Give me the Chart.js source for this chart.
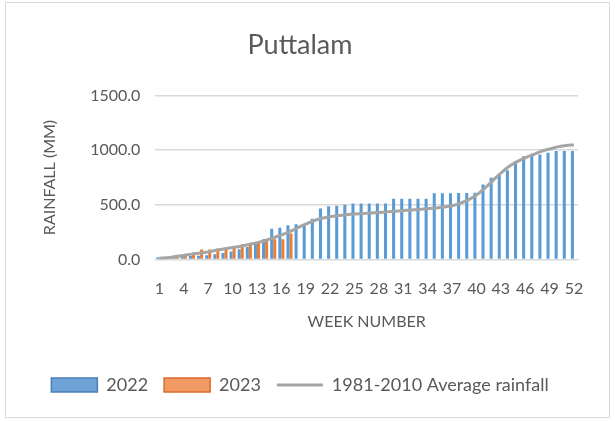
<!DOCTYPE html>
<html>
<head>
<meta charset="utf-8">
<script src="https://cdn.jsdelivr.net/npm/chart.js@4.4.0/dist/chart.umd.min.js"></script>
<style>
  html, body { margin: 0; padding: 0; background: #fff; }
  #wrap { position: relative; width: 615px; height: 421px; }
  #frame { position: absolute; left: 5px; top: 2px; width: 605px; height: 416px; border: 1px solid #d9d9d9; box-sizing: border-box; }
  canvas { position: absolute; left: 0; top: 0; }
</style>
</head>
<body>
<div id="wrap">
  <div id="frame"></div>
  <canvas id="chart" width="615" height="421"></canvas>
</div>
<script>
// Puttalam cumulative weekly rainfall
const weeks = Array.from({ length: 52 }, (_, i) => String(i + 1));

const rain2022 = [22, 25, 28, 30, 32, 35, 40, 50, 60, 75,
  95, 115, 150, 185, 282, 292, 313, 322, 325, 374,
  467, 488, 492, 500, 512, 512, 512, 512, 512, 555,
  555, 555, 555, 555, 605, 605, 605, 608, 608, 610,
  686, 747, 772, 817, 900, 945, 950, 961, 976, 991,
  991, 991];

const rain2023 = [15, 25, 45, 45, 64, 92, 92, 101, 110, 110,
  141, 141, 157, 178, 185, 185, 239];

const avgRain = [12, 18, 28, 38, 50, 60, 70, 85, 98, 110,
  122, 138, 155, 175, 198, 225, 255, 290, 325, 355,
  378, 392, 402, 410, 416, 420, 425, 430, 436, 442,
  448, 452, 458, 465, 472, 480, 492, 515, 545, 590,
  650, 720, 790, 850, 895, 930, 960, 990, 1010, 1030,
  1042, 1050];

const yTicks = [0, 500, 1000, 1500];

const FONT = 'Lato, "Open Sans", sans-serif';
const GREY_TEXT = '#595959';

const ctx = document.getElementById('chart').getContext('2d');
new Chart(ctx, {
  data: {
    labels: weeks,
    datasets: [
      {
        type: 'line',
        label: '1981-2010 Average rainfall',
        data: avgRain,
        borderColor: '#a5a5a5',
        borderWidth: 3,
        pointRadius: 0,
        tension: 0.4,
        order: 0
      },
      {
        type: 'bar',
        label: '2022',
        data: rain2022,
        backgroundColor: '#5b9bd5',
        categoryPercentage: 0.75,
        barPercentage: 1,
        order: 1
      },
      {
        type: 'bar',
        label: '2023',
        data: rain2023,
        backgroundColor: '#ed7d31',
        categoryPercentage: 0.75,
        barPercentage: 1,
        order: 1
      }
    ]
  },
  options: {
    responsive: false,
    devicePixelRatio: 1,
    animation: false,
    layout: { padding: { left: 22, right: 37, top: 19, bottom: 17 } },
    plugins: {
      title: {
        display: true,
        text: 'Puttalam',
        color: GREY_TEXT,
        font: { family: FONT, size: 27, weight: 'normal' },
        padding: { top: 10, bottom: 34 }
      },
      legend: {
        position: 'bottom',
        labels: {
          color: GREY_TEXT,
          font: { family: FONT, size: 18 },
          usePointStyle: true,
          pointStyleWidth: 46,
          boxHeight: 14,
          padding: 16,
          // legend order: 2022, 2023, average line
          generateLabels: chart => {
            const ds = chart.data.datasets;
            return [
              { text: '2022', fillStyle: '#6fa3d8', strokeStyle: '#4a7ebb', lineWidth: 1.5, pointStyle: 'rect', datasetIndex: 1, fontColor: GREY_TEXT },
              { text: '2023', fillStyle: '#f29a64', strokeStyle: '#d9692a', lineWidth: 1.5, pointStyle: 'rect', datasetIndex: 2, fontColor: GREY_TEXT },
              { text: ds[0].label, fillStyle: '#a5a5a5', strokeStyle: '#a5a5a5', lineWidth: 3, pointStyle: 'line', datasetIndex: 0, fontColor: GREY_TEXT }
            ];
          }
        }
      },
      tooltip: { enabled: false }
    },
    scales: {
      x: {
        grid: { display: false, drawTicks: false },
        border: { display: true, color: '#d9d9d9', width: 1 },
        ticks: {
          color: GREY_TEXT,
          font: { family: FONT, size: 16 },
          autoSkip: false,
          maxRotation: 0,
          padding: 20,
          callback: (v, i) => (i % 3 === 0 ? weeks[i] : '')
        },
        title: {
          display: true,
          text: 'WEEK NUMBER',
          color: GREY_TEXT,
          font: { family: FONT, size: 16 },
          padding: { top: -7, bottom: 29 }
        }
      },
      y: {
        min: 0,
        max: 1500,
        afterBuildTicks: axis => { axis.ticks = yTicks.map(v => ({ value: v })); },
        grid: { color: '#d9d9d9', lineWidth: 1.5, drawTicks: false },
        border: { display: false },
        ticks: {
          color: GREY_TEXT,
          font: { family: FONT, size: 16 },
          padding: 15,
          callback: v => Number(v).toFixed(1)
        },
        title: {
          display: true,
          text: 'RAINFALL (MM)',
          color: GREY_TEXT,
          font: { family: FONT, size: 16 },
          padding: { top: 18, bottom: 16 }
        }
      }
    }
  }
});
</script>
</body>
</html>
